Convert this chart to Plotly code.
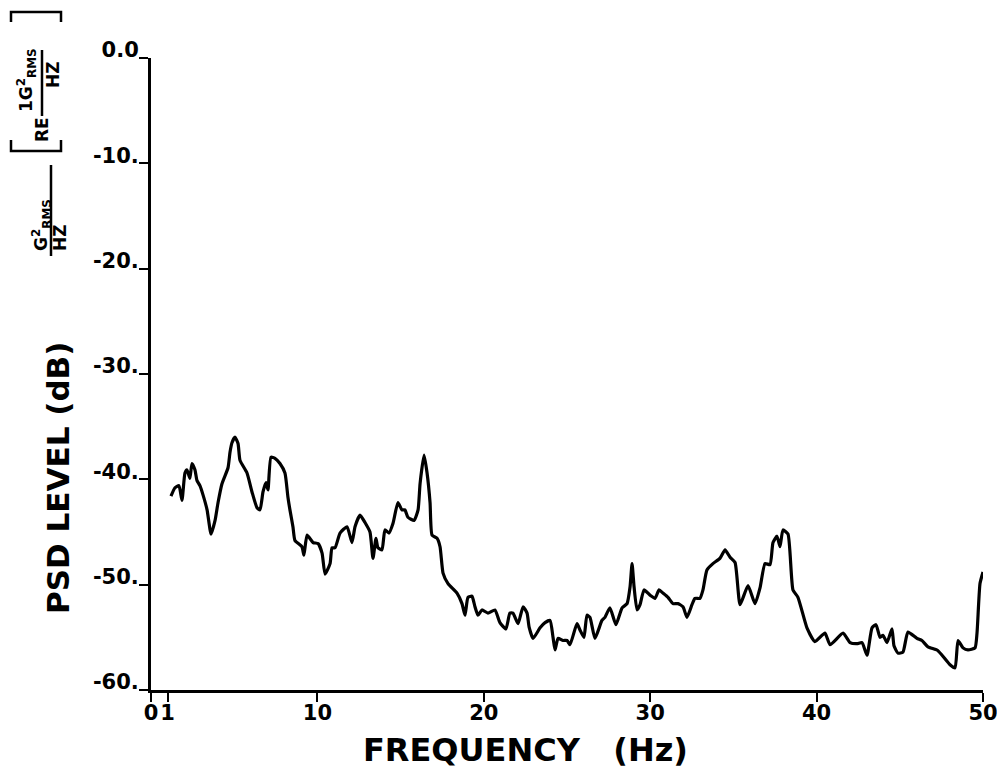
import plotly.graph_objects as go

# ---- data ----
freq_hz = [1.20, 1.44, 1.68, 1.86, 2.04, 2.16, 2.34, 2.46, 2.64, 2.76, 2.94, 3.13, 3.37, 3.61, 3.85,
           4.03, 4.27, 4.63, 4.75, 4.87, 5.05, 5.23, 5.35, 5.77, 6.07, 6.37, 6.55, 6.73, 6.91, 7.03,
           7.21, 7.45, 7.75, 8.05, 8.23, 8.35, 8.53, 8.65, 9.07, 9.19, 9.38, 9.74, 10.04, 10.28, 10.46,
           10.76, 10.88, 11.06, 11.36, 11.78, 12.08, 12.26, 12.56, 12.86, 13.16, 13.34, 13.52, 13.64,
           13.88, 14.06, 14.30, 14.54, 14.84, 15.08, 15.26, 15.44, 15.81, 16.05, 16.17, 16.41, 16.59,
           16.77, 16.89, 17.19, 17.37, 17.55, 17.85, 18.39, 18.69, 18.87, 19.05, 19.29, 19.47, 19.65,
           19.89, 20.25, 20.67, 20.97, 21.33, 21.57, 21.75, 22.06, 22.36, 22.60, 22.72, 22.96, 23.38,
           23.68, 23.98, 24.16, 24.28, 24.46, 24.76, 25.00, 25.18, 25.60, 25.78, 26.02, 26.20, 26.38,
           26.68, 27.10, 27.28, 27.58, 27.94, 28.31, 28.61, 28.79, 28.91, 29.03, 29.21, 29.39, 29.63,
           29.99, 30.29, 30.53, 30.77, 31.07, 31.37, 31.67, 31.97, 32.21, 32.51, 32.69, 32.99, 33.17,
           33.41, 33.77, 34.19, 34.50, 34.80, 35.10, 35.40, 35.88, 36.30, 36.60, 36.90, 37.20, 37.38,
           37.62, 37.80, 37.98, 38.28, 38.58, 38.88, 39.42, 39.90, 40.50, 40.81, 41.59, 42.01, 42.43,
           42.73, 43.03, 43.33, 43.57, 43.81, 43.99, 44.23, 44.53, 44.65, 44.89, 45.19, 45.49, 46.03,
           46.33, 46.69, 47.24, 47.54, 48.02, 48.32, 48.50, 48.80, 49.10, 49.52, 49.64, 49.82, 50.0]
psd_db = [-41.6, -40.8, -40.6, -42.0, -39.4, -39.1, -39.9, -38.5, -39.1, -40.1, -40.6, -41.5, -42.9,
          -45.2, -43.9, -42.2, -40.4, -38.9, -37.4, -36.5, -36.0, -36.6, -38.2, -39.4, -41.2, -42.7,
          -42.9, -41.2, -40.3, -41.0, -37.9, -38.0, -38.5, -39.4, -41.7, -42.9, -44.5, -45.8, -46.4,
          -47.2, -45.3, -46.0, -46.1, -47.0, -49.0, -48.0, -46.5, -46.5, -45.1, -44.5, -46.0, -44.5,
          -43.4, -44.1, -45.0, -47.5, -45.6, -46.5, -46.7, -44.8, -45.1, -44.2, -42.2, -42.9, -42.9,
          -43.6, -43.9, -42.9, -40.4, -37.7, -39.4, -42.2, -45.3, -45.6, -46.4, -48.9, -49.9, -50.8,
          -51.8, -52.9, -51.2, -51.1, -52.1, -52.9, -52.4, -52.7, -52.4, -53.6, -54.2, -52.7, -52.7,
          -53.7, -52.1, -52.7, -54.0, -55.1, -54.1, -53.6, -53.4, -55.0, -56.2, -55.1, -55.3, -55.3,
          -55.7, -53.7, -54.3, -55.0, -52.9, -53.1, -55.1, -53.4, -53.1, -52.2, -53.8, -52.2, -51.8,
          -50.2, -48.0, -50.2, -52.4, -51.9, -50.5, -51.0, -51.3, -50.5, -50.8, -51.2, -51.8, -51.8,
          -52.1, -53.1, -51.9, -51.3, -51.3, -50.5, -48.6, -48.0, -47.5, -46.7, -47.4, -47.9, -51.9,
          -50.1, -51.8, -50.3, -48.0, -48.1, -46.0, -45.4, -46.4, -44.8, -45.2, -50.5, -51.2, -54.1,
          -55.4, -54.6, -55.7, -54.6, -55.5, -55.6, -55.5, -56.7, -54.1, -53.8, -55.0, -54.8, -55.5,
          -54.2, -55.8, -56.5, -56.4, -54.5, -55.1, -55.3, -55.9, -56.2, -56.7, -57.6, -57.9, -55.3,
          -56.0, -56.2, -56.0, -54.6, -49.9, -48.8]

x_tick_vals = [0, 1, 10, 20, 30, 40, 50]
x_tick_text = ["0", "1", "10", "20", "30", "40", "50"]
y_tick_vals = [0, -10, -20, -30, -40, -50, -60]
y_tick_text = ["0.0", "-10.", "-20.", "-30.", "-40.", "-50.", "-60."]

W, H = 1005, 782
OFF = 8  # page offset of the figure in the browser window
L, R, T, B = 143, 30, 50, 100
PW, PH = W - L - R, H - T - B


def px(x):
    # window pixel x -> paper coordinate
    return (x - OFF - L) / PW


def py(y):
    # window pixel y -> paper coordinate
    return (H - B - (y - OFF)) / PH


FONT = "DejaVu Sans"

fig = go.Figure()
fig.add_trace(go.Scatter(x=freq_hz, y=psd_db, mode="lines",
                         line=dict(color="black", width=3.2, shape="spline", smoothing=0.5),
                         showlegend=False, hoverinfo="skip"))

fig.update_layout(
    width=W, height=H,
    margin=dict(l=L, r=R, t=T, b=B, pad=0),
    paper_bgcolor="white", plot_bgcolor="white",
    font=dict(family=FONT, color="black"),
    xaxis=dict(range=[0, 50], tickvals=x_tick_vals, ticktext=x_tick_text,
               showgrid=False, zeroline=False, showline=True, linecolor="black", linewidth=3,
               ticks="outside", ticklen=9, tickwidth=2, tickcolor="black",
               ticklabelstandoff=-7,
               tickfont=dict(family=FONT, size=21, weight="bold")),
    yaxis=dict(range=[-60, 0], tickvals=y_tick_vals, ticktext=y_tick_text,
               showgrid=False, zeroline=False, showline=True, linecolor="black", linewidth=3,
               ticks="outside", ticklen=9, tickwidth=2, tickcolor="black",
               ticklabelshift=-8, ticklabelstandoff=-4,
               tickfont=dict(family=FONT, size=21, weight="bold")),
)

ann = []
ann.append(dict(text="<b>FREQUENCY   (Hz)</b>", x=px(525), y=py(750), xref="paper", yref="paper",
                showarrow=False, xanchor="center", yanchor="middle",
                font=dict(family=FONT, size=32)))
ann.append(dict(text="<b>PSD LEVEL (dB)</b>", x=px(58), y=py(478), xref="paper", yref="paper",
                textangle=-90, showarrow=False, xanchor="center", yanchor="middle",
                font=dict(family=FONT, size=31)))
ann.append(dict(text="<b>G<sup>2</sup><sub>RMS</sub></b>", x=px(42), y=py(225), xref="paper", yref="paper",
                textangle=-90, showarrow=False, xanchor="center", yanchor="middle",
                font=dict(family=FONT, size=17)))
ann.append(dict(text="<b>HZ</b>", x=px(60), y=py(238), xref="paper", yref="paper",
                textangle=-90, showarrow=False, xanchor="center", yanchor="middle",
                font=dict(family=FONT, size=17)))
ann.append(dict(text="<b>1G<sup>2</sup><sub>RMS</sub></b>", x=px(27), y=py(80), xref="paper", yref="paper",
                textangle=-90, showarrow=False, xanchor="center", yanchor="middle",
                font=dict(family=FONT, size=17)))
ann.append(dict(text="<b>HZ</b>", x=px(53), y=py(75), xref="paper", yref="paper",
                textangle=-90, showarrow=False, xanchor="center", yanchor="middle",
                font=dict(family=FONT, size=17)))
ann.append(dict(text="<b>RE</b>", x=px(42), y=py(130), xref="paper", yref="paper",
                textangle=-90, showarrow=False, xanchor="center", yanchor="middle",
                font=dict(family=FONT, size=17)))
fig.update_layout(annotations=ann)

shapes = []
line_style = dict(color="black", width=2.5)
# fraction bar G/HZ
shapes.append(dict(type="line", xref="paper", yref="paper", x0=px(51), x1=px(51), y0=py(165), y1=py(256), line=line_style))
# fraction bar inside bracket
shapes.append(dict(type="line", xref="paper", yref="paper", x0=px(42), x1=px(42), y0=py(50), y1=py(116), line=line_style))
# brackets
shapes.append(dict(type="path", xref="paper", yref="paper",
                   path=f"M {px(11)},{py(22)} L {px(11)},{py(12)} L {px(61)},{py(12)} L {px(61)},{py(22)}",
                   line=line_style))
shapes.append(dict(type="path", xref="paper", yref="paper",
                   path=f"M {px(11)},{py(140)} L {px(11)},{py(151)} L {px(61)},{py(151)} L {px(61)},{py(140)}",
                   line=line_style))
fig.update_layout(shapes=shapes)

fig.write_html("out.html")
